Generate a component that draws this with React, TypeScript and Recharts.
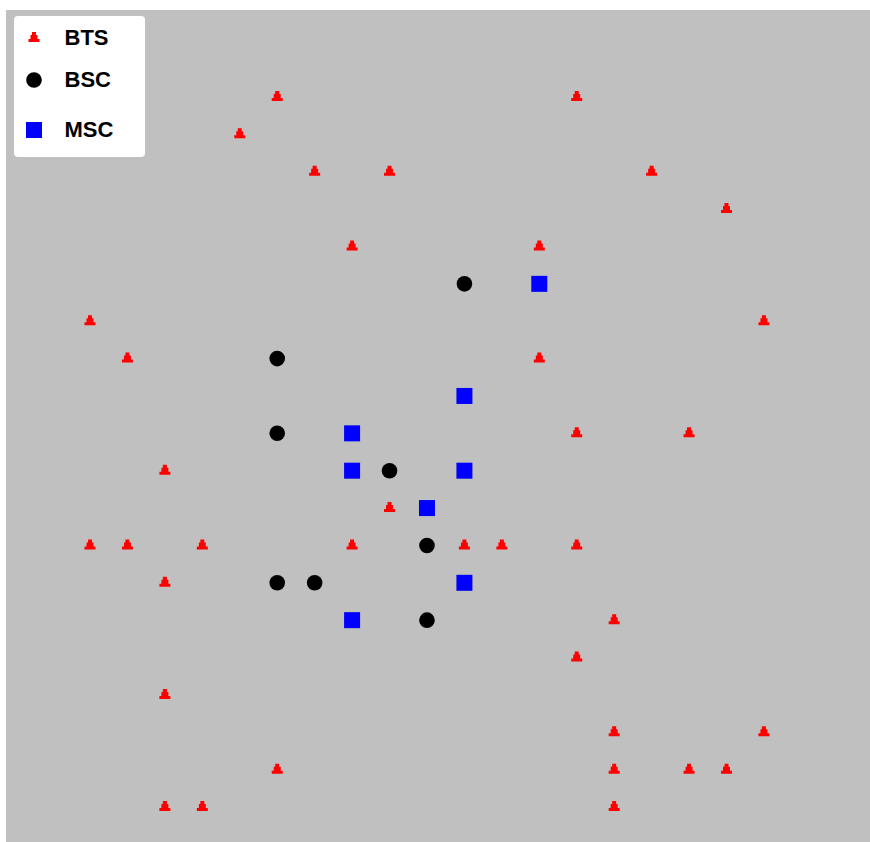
import React from 'react';
import { ScatterChart, Scatter, XAxis, YAxis } from 'recharts';

// grid positions: [column, row], row 0 at the top
const btsPoints = [
  [5, 0], [13, 0],
  [4, 1],
  [6, 2], [8, 2], [15, 2],
  [17, 3],
  [7, 4], [12, 4],
  [0, 6], [18, 6],
  [1, 7], [12, 7],
  [13, 9], [16, 9],
  [2, 10],
  [8, 11],
  [0, 12], [1, 12], [3, 12], [7, 12], [10, 12], [11, 12], [13, 12],
  [2, 13],
  [14, 14],
  [13, 15],
  [2, 16],
  [14, 17], [18, 17],
  [5, 18], [14, 18], [16, 18], [17, 18],
  [2, 19], [3, 19], [14, 19],
];

const bscPoints = [
  [10, 5], [5, 7], [5, 9], [8, 10], [9, 12], [5, 13], [6, 13], [9, 14],
];

const mscPoints = [
  [12, 5], [10, 8], [7, 9], [7, 10], [10, 10], [9, 11], [10, 13], [7, 14],
];

const seriesNames = ['BTS', 'BSC', 'MSC'];

const toRows = (pts: number[][]) => pts.map(([x, y]) => ({ x, y }));

const RED = '#ff0000';
const BLACK = '#000000';
const BLUE = '#0000ff';

const Tower = ({ cx, cy }: any) => (
  <path
    d={`M${cx - 2},${cy - 6} L${cx + 2},${cy - 6} L${cx + 2},${cy - 3} L${cx + 3.5},${cy - 3} L${cx + 3.5},${cy + 1} L${cx + 5.5},${cy + 1} L${cx + 5.5},${cy + 4} L${cx - 5.5},${cy + 4} L${cx - 5.5},${cy + 1} L${cx - 3.5},${cy + 1} L${cx - 3.5},${cy - 3} L${cx - 2},${cy - 3} Z`}
    fill={RED}
  />
);

const Dot = ({ cx, cy }: any) => <circle cx={cx} cy={cy} r={7.8} fill={BLACK} />;

const Box = ({ cx, cy }: any) => <rect x={cx - 8} y={cy - 8} width={16} height={16} fill={BLUE} />;

const markers = [Tower, Dot, Box];
const rowTops = [22, 64.5, 114.5];

// legend drawn as an overlay so it doesn't take space from the plot
const LegendBox = () => (
  <div
    style={{
      position: 'absolute',
      left: 7.5,
      top: 5.5,
      width: 131,
      height: 141,
      background: '#ffffff',
      borderRadius: 4,
    }}
  >
    {seriesNames.map((name, i) => {
      const Marker = markers[i];
      return (
        <React.Fragment key={name}>
          <svg
            width={20}
            height={20}
            style={{ position: 'absolute', left: 10, top: rowTops[i] - 10 }}
          >
            <Marker cx={10} cy={10} />
          </svg>
          <span
            style={{
              position: 'absolute',
              left: 51,
              top: rowTops[i] - 13,
              lineHeight: '26px',
              fontFamily: '"Liberation Sans", Arial, sans-serif',
              fontWeight: 'bold',
              fontSize: 22,
              color: '#000',
            }}
          >
            {name}
          </span>
        </React.Fragment>
      );
    })}
  </div>
);

export default function App() {
  return (
    <div style={{ position: 'absolute', left: 6, top: 10, width: 864, height: 832, background: '#c0c0c0' }}>
      <ScatterChart width={864} height={832} margin={{ top: 0, right: 0, bottom: 0, left: 0 }}>
        <XAxis type="number" dataKey="x" domain={[-2.244, 20.833]} hide allowDataOverflow />
        <YAxis type="number" dataKey="y" domain={[-2.328, 19.936]} reversed hide allowDataOverflow />
        <Scatter name="BTS" data={toRows(btsPoints)} shape={Tower} isAnimationActive={false} />
        <Scatter name="BSC" data={toRows(bscPoints)} shape={Dot} isAnimationActive={false} />
        <Scatter name="MSC" data={toRows(mscPoints)} shape={Box} isAnimationActive={false} />
      </ScatterChart>
      <LegendBox />
    </div>
  );
}
